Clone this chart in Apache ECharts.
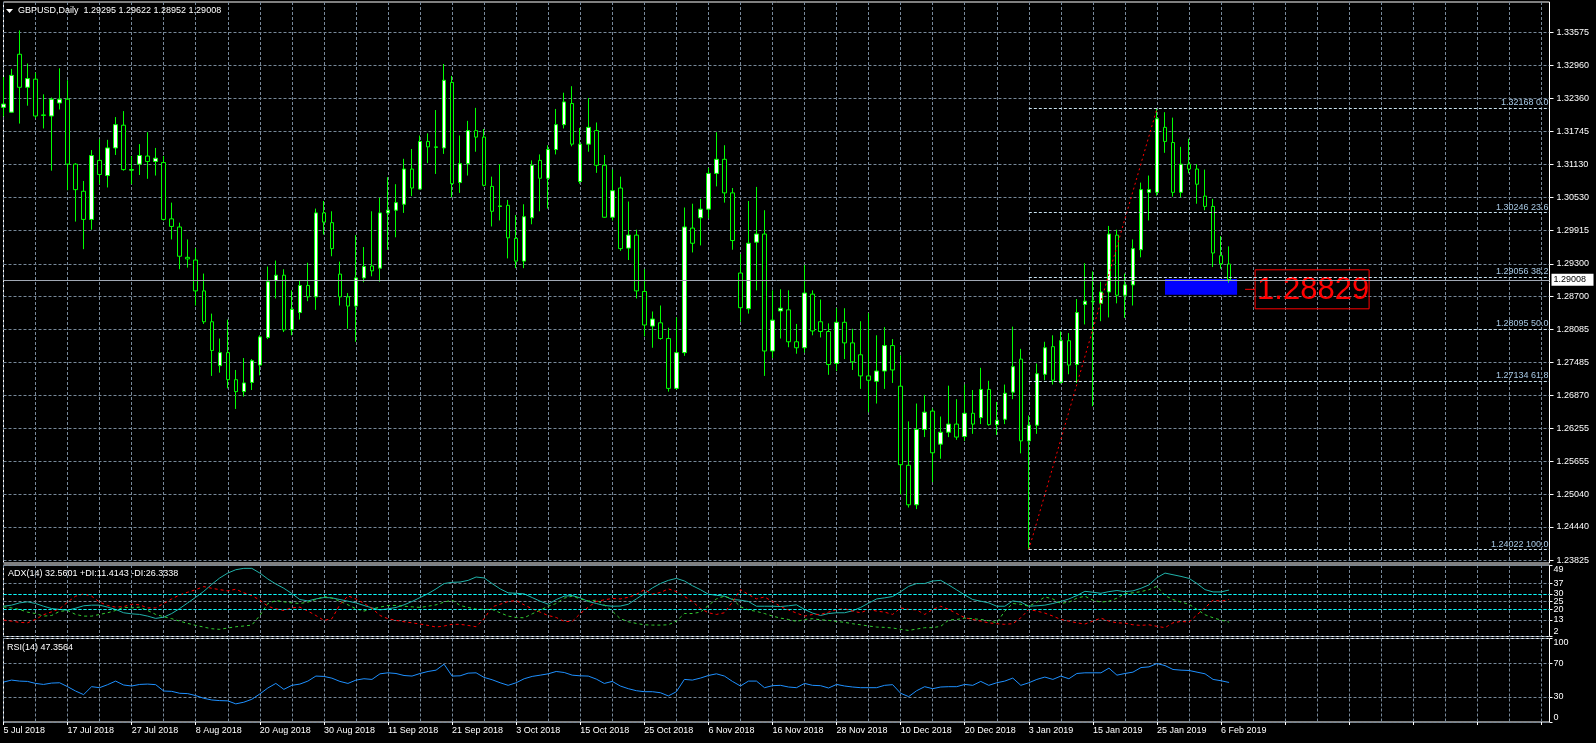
<!DOCTYPE html>
<html><head><meta charset="utf-8">
<script src="https://cdn.jsdelivr.net/npm/echarts@6/dist/echarts.min.js"></script>
<style>html,body{margin:0;padding:0;background:#000;overflow:hidden}#c{width:1596px;height:743px}</style>
</head><body><div id="c"></div>
<script>
// ---------- trading days (categories) ----------
const jul2018 = [5,6,9,10,11,12,13,16,17,18,19,20,23,24,25,26,27,30,31];
const aug2018 = [1,2,3,6,7,8,9,10,13,14,15,16,17,20,21,22,23,24,27,28,29,30,31];
const sep2018 = [3,4,5,6,7,10,11,12,13,14,17,18,19,20,21,24,25,26,27,28];
const oct2018 = [1,2,3,4,5,8,9,10,11,12,15,16,17,18,19,22,23,24,25,26,29,30,31];
const nov2018 = [1,2,5,6,7,8,9,12,13,14,15,16,19,20,21,22,23,26,27,28,29,30];
const dec2018 = [3,4,5,6,7,10,11,12,13,14,17,18,19,20,21,24,26,27,28,31];
const jan2019 = [2,3,4,7,8,9,10,11,14,15,16,17,18,21,22,23,24,25,28,29,30,31];
const feb2019 = [1,4,5,6,7];

// ---------- GBPUSD daily OHLC ----------
const opens = [1.3219,1.3210,1.3317,1.3256,1.3271,1.3205,1.3203,1.3227,1.3234,1.3114,1.3064,1.3012,1.3121,1.3093,1.3144,1.3186,1.3103,1.3114,1.3129,1.3119,
1.3117,1.3013,1.2998,1.2942,1.2937,1.2880,1.2823,1.2742,1.2766,1.2716,1.2694,1.2711,1.2743,1.2794,1.2899,1.2909,1.2808,1.2840,1.2890,1.2869,
1.3024,1.3006,1.2911,1.2869,1.2852,1.2904,1.2926,1.2922,1.3024,1.3029,1.3040,1.3105,1.3068,1.3156,1.3146,1.3144,1.3265,1.3080,1.3115,1.3176,
1.3164,1.3073,1.3036,1.3038,1.2977,1.2935,1.3015,1.3121,1.3088,1.3141,1.3187,1.3226,1.3082,1.3151,1.3176,1.3112,1.3016,1.3070,1.2959,1.2983,
1.2879,1.2815,1.2821,1.2792,1.2700,1.2766,1.2996,1.3015,1.3031,1.3097,1.3123,1.3061,1.2913,1.2847,1.2970,1.2985,1.2769,1.2843,1.2845,1.2786,
1.2775,1.2874,1.2823,1.2805,1.2746,1.2822,1.2784,1.2762,1.2723,1.2713,1.2732,1.2779,1.2704,1.2558,1.2485,1.2624,1.2658,1.2597,1.2619,1.2634,
1.2611,1.2654,1.2646,1.2698,1.2633,1.2643,1.2693,1.2754,1.2603,1.2632,1.2726,1.2777,1.2711,1.2788,1.2744,1.2855,1.2860,1.2857,1.2878,1.2983,
1.2872,1.2891,1.2956,1.3062,1.3062,1.3182,1.3154,1.3062,1.3114,1.3105,1.3055,1.3036,1.2945,1.29295];
const highs = [1.3275,1.3290,1.3361,1.3300,1.3283,1.3243,1.3237,1.3291,1.3269,1.3116,1.3083,1.3140,1.3160,1.3159,1.3201,1.3212,1.3129,1.3151,1.3173,1.3144,
1.3129,1.3043,1.3006,1.2975,1.2959,1.2912,1.2838,1.2792,1.2827,1.2734,1.2756,1.2754,1.2798,1.2925,1.2936,1.2920,1.2881,1.2900,1.2932,1.3032,
1.3046,1.3027,1.2934,1.2876,1.2983,1.2961,1.3027,1.3052,1.3090,1.3077,1.3124,1.3142,1.3167,1.3171,1.3214,1.3299,1.3277,1.3167,1.3194,1.3218,
1.3179,1.3091,1.3114,1.3048,1.3020,1.3040,1.3121,1.3132,1.3149,1.3216,1.3246,1.3258,1.3181,1.3236,1.3191,1.3131,1.3104,1.3091,1.3045,1.2993,
1.2920,1.2842,1.2853,1.2812,1.2831,1.3034,1.3041,1.3050,1.3107,1.3173,1.3149,1.3070,1.2948,1.3046,1.3072,1.3029,1.2881,1.2883,1.2881,1.2819,
1.2928,1.2881,1.2864,1.2820,1.2848,1.2848,1.2810,1.2824,1.2839,1.2798,1.2813,1.2791,1.2761,1.2639,1.2672,1.2688,1.2663,1.2648,1.2705,1.2680,
1.2707,1.2697,1.2738,1.2714,1.2675,1.2707,1.2814,1.2773,1.2650,1.2746,1.2786,1.2798,1.2805,1.2802,1.2865,1.2931,1.2916,1.2897,1.3000,1.2993,
1.2912,1.2975,1.3080,1.3093,1.32168,1.3210,1.3200,1.3146,1.3161,1.3114,1.3104,1.3050,1.2981,1.29622];
const lows = [1.3202,1.3209,1.3189,1.3222,1.3199,1.3180,1.3102,1.3215,1.3066,1.3008,1.2957,1.2993,1.3077,1.3071,1.3131,1.3102,1.3077,1.3094,1.3087,1.3093,
1.3010,1.2975,1.2920,1.2923,1.2853,1.2819,1.2723,1.2729,1.2700,1.2662,1.2685,1.2697,1.2724,1.2791,1.2866,1.2804,1.2798,1.2827,1.2861,1.2845,
1.2984,1.2944,1.2853,1.2810,1.2786,1.2896,1.2907,1.2897,1.2956,1.2979,1.3024,1.3055,1.3067,1.3116,1.3096,1.3133,1.3053,1.3061,1.3093,1.3137,
1.3073,1.2999,1.3010,1.2940,1.2922,1.2922,1.3003,1.3027,1.3032,1.3132,1.3180,1.3147,1.3078,1.3137,1.3098,1.3015,1.3010,1.2954,1.2937,1.2866,
1.2796,1.2775,1.2790,1.2694,1.2698,1.2760,1.2951,1.2964,1.3014,1.3073,1.3043,1.2956,1.2823,1.2838,1.2881,1.2723,1.2756,1.2792,1.2776,1.2764,
1.2766,1.2798,1.2794,1.2725,1.2732,1.2754,1.2734,1.2699,1.2656,1.2672,1.2699,1.2710,1.2504,1.2480,1.2477,1.2610,1.2527,1.2570,1.2610,1.2605,
1.2603,1.2616,1.2634,1.2631,1.2614,1.2634,1.2680,1.2580,1.24022,1.2616,1.2715,1.2707,1.2709,1.2726,1.2710,1.2818,1.2667,1.2824,1.2831,1.2857,
1.2830,1.2853,1.2942,1.3010,1.3056,1.3135,1.3054,1.3053,1.3097,1.3041,1.3029,1.2924,1.2921,1.28952];
const closes = [1.3225,1.3278,1.3256,1.3272,1.3203,1.3204,1.3234,1.3234,1.3114,1.3067,1.3012,1.3130,1.3095,1.3144,1.3187,1.3104,1.3104,1.3130,1.3119,1.3125,
1.3012,1.2999,1.2944,1.2939,1.2880,1.2823,1.2770,1.2766,1.2716,1.2694,1.2710,1.2751,1.2795,1.2897,1.2909,1.2808,1.2846,1.2890,1.2869,1.3024,
1.3007,1.2958,1.2869,1.2852,1.2904,1.2925,1.2917,1.3024,1.3029,1.3043,1.3105,1.3070,1.3156,1.3146,1.3145,1.3269,1.3078,1.3115,1.3176,1.3164,
1.3075,1.3027,1.3037,1.2978,1.2935,1.3017,1.3112,1.3088,1.3141,1.3187,1.3229,1.3151,1.3151,1.3182,1.3112,1.3016,1.3065,1.2958,1.2983,1.2880,
1.2817,1.2828,1.2792,1.2700,1.2766,1.2998,1.2968,1.3031,1.3097,1.3123,1.3061,1.2973,1.2849,1.2968,1.2985,1.2769,1.2826,1.2848,1.2786,1.2775,
1.2876,1.2806,1.2805,1.2744,1.2822,1.2784,1.2749,1.2723,1.2715,1.2732,1.2779,1.2734,1.2559,1.2485,1.2624,1.2656,1.2581,1.2619,1.2634,1.2610,
1.2654,1.2634,1.2698,1.2633,1.2641,1.2691,1.2740,1.2603,1.2632,1.2727,1.2775,1.2715,1.2788,1.2743,1.2840,1.2861,1.2861,1.2878,1.2985,1.2872,
1.2891,1.2958,1.3067,1.3067,1.3198,1.3156,1.3062,1.3114,1.3105,1.3077,1.3036,1.2950,1.2930,1.29008];

// ---------- ADX(14) ----------
const adx = [21.9,22.6,24.1,24.8,23.7,21.9,20.4,19.8,19.3,20.6,22.2,22.6,22.6,21.3,19.8,17.6,16.9,16.5,15.4,13.9,
14.7,17.1,20.4,24.1,27.8,31.7,36.3,40.5,43.7,45.9,46.8,46.8,43.7,39.8,36.5,33.7,30.2,26.3,25.4,26.7,
27.6,27.4,26.3,25.2,24.1,22.4,20.8,19.5,20.2,21.1,22.8,25.0,27.6,30.2,33.3,36.8,37.6,37.8,38.9,41.1,
40.5,36.8,33.3,30.7,30.4,30.0,27.6,25.2,23.2,26.3,28.5,28.9,27.4,25.0,23.7,22.4,21.9,22.0,23.2,26.7,
30.2,33.9,36.8,38.9,40.2,38.5,35.4,32.8,29.8,29.1,28.5,26.3,25.9,25.0,21.9,21.9,21.9,21.7,22.2,22.8,
19.8,17.4,15.8,17.1,17.6,17.6,18.9,21.1,23.9,26.7,27.4,28.3,31.5,35.0,36.8,36.8,38.5,38.9,35.9,32.6,
29.3,26.3,25.2,24.1,21.9,21.9,25.4,24.6,21.9,22.2,22.6,23.7,25.0,26.7,28.9,31.7,31.1,30.4,31.5,32.2,
31.5,32.0,33.7,35.9,40.7,43.7,42.6,41.5,40.2,36.8,32.8,31.3,31.3,32.5601];
const plusDI = [21.5,20.8,19.8,18.0,17.1,15.4,15.8,18.5,19.1,16.5,15.4,15.4,16.5,17.6,19.1,21.3,20.8,21.3,19.1,16.5,
15.0,13.7,12.1,10.6,9.3,8.2,7.1,6.7,7.6,8.4,8.9,9.5,15.8,23.7,25.6,24.8,24.1,23.7,24.6,26.3,
28.3,27.2,25.2,22.8,20.2,18.7,20.2,21.3,22.4,22.4,21.9,21.5,21.1,21.9,22.8,24.6,25.9,22.4,21.1,20.0,
19.8,19.8,17.6,15.4,14.5,14.3,16.9,19.3,21.9,23.7,27.2,28.5,26.7,25.4,25.9,22.8,18.7,13.7,11.7,10.6,
9.7,9.5,9.5,9.7,12.1,17.1,17.1,18.0,22.4,26.7,28.5,26.7,21.5,19.5,18.5,17.1,15.4,14.1,13.2,11.9,
13.2,13.7,13.0,12.6,11.9,11.3,10.4,9.7,8.9,8.2,8.0,7.6,6.7,6.0,6.9,7.8,7.8,8.7,12.8,13.2,
14.1,13.7,13.2,12.4,11.0,18.7,23.7,23.2,21.9,24.6,28.0,26.7,23.7,24.6,27.2,28.5,25.9,24.6,25.2,27.2,
30.2,30.7,31.5,32.8,35.0,28.9,26.3,24.6,23.2,19.8,16.3,14.3,12.8,11.4143];
const minusDI = [12.8,12.1,11.3,11.0,13.2,16.3,18.2,20.2,24.6,28.5,30.0,28.5,24.6,22.4,21.3,21.7,23.2,22.8,20.8,20.8,
23.7,26.7,29.3,31.1,32.8,34.8,33.7,32.8,32.0,33.1,30.7,28.9,25.9,21.9,20.2,19.1,20.8,21.3,18.7,15.8,
12.6,13.7,23.0,28.7,26.7,23.7,20.6,15.8,13.7,12.6,11.7,11.0,10.2,9.3,8.2,8.9,10.0,10.0,9.3,8.4,
13.7,21.5,23.2,25.0,25.6,22.8,20.2,18.0,15.8,14.5,11.9,11.9,17.1,21.3,25.0,26.1,27.0,26.7,27.8,29.6,
32.8,29.8,30.9,33.3,31.5,28.3,25.0,20.4,17.6,16.5,17.6,24.6,32.8,29.6,26.7,28.0,25.0,21.7,19.5,17.4,
15.4,16.5,16.5,18.0,19.8,20.2,18.7,17.6,19.8,18.7,18.0,16.5,20.8,19.8,19.5,16.5,19.8,21.9,19.8,17.1,
14.3,13.2,12.1,11.0,10.4,10.0,10.4,14.3,19.8,18.7,17.4,15.4,13.2,12.1,11.0,10.2,12.1,14.1,12.1,11.0,
10.8,9.7,9.3,9.7,8.7,7.8,11.0,11.9,11.5,16.3,20.8,25.9,25.2,26.3338];

// ---------- RSI(14) ----------
const rsi = [47.8,50.2,49.0,48.6,46.2,45.0,46.6,47.0,42.3,37.1,32.8,42.3,41.1,44.7,49.0,44.3,43.1,45.0,45.4,44.7,
37.1,36.7,34.4,34.0,31.6,28.4,26.4,25.6,25.3,21.7,23.7,27.2,33.6,40.7,46.2,39.1,43.9,45.4,49.0,55.0,
54.6,52.5,48.6,46.2,50.2,51.8,51.0,57.7,58.9,58.1,55.7,55.0,58.1,60.5,62.1,69.2,55.0,55.3,58.5,58.9,
53.4,50.6,47.0,43.9,47.0,51.8,54.6,56.1,57.7,60.5,59.3,56.1,55.3,55.0,51.4,46.2,48.6,43.1,39.9,37.5,
36.3,36.3,35.1,31.2,36.3,51.0,50.2,52.6,55.7,57.7,55.0,48.6,43.1,49.0,49.0,41.1,43.5,43.9,41.9,41.1,
46.2,43.9,43.5,40.7,45.0,43.1,41.9,41.1,41.1,41.1,43.9,44.7,34.4,30.4,37.5,42.3,39.9,41.9,42.3,42.3,
45.0,43.9,48.6,43.9,47.0,49.0,52.6,43.9,47.0,51.0,53.8,51.0,55.0,51.8,58.1,58.9,58.9,58.9,64.5,56.1,
58.1,59.7,65.2,66.0,70.0,67.6,62.9,62.1,61.7,59.7,57.7,51.0,49.4,47.3564];

// ---------- axis ticks / levels ----------
const priceTicks = [1.23825,1.24440,1.25040,1.25655,1.26255,1.26870,1.27485,1.28085,1.28700,1.29300,1.29915,1.30530,1.31130,1.31745,1.32360,1.32960,1.33575];
const adxTicks = [2,13,20,25,30,37,49];
const adxLevels = [20,30];
const rsiTicks = [0,30,70,100];
const fibLevels = [0.0,23.6,38.2,50.0,61.8,100.0];
const fibPrices = [1.32168,1.30246,1.29056,1.28095,1.27134,1.24022];
const fibLowIndex = 128, fibHighIndex = 144;
const boxIndexRange = [145,154];
const boxPrices = [1.2902,1.2873];
const labelPrice = 1.28829;
const labelIndex = 155;

// ---------- build ----------
const monthTable = [['Jul 2018',jul2018],['Aug 2018',aug2018],['Sep 2018',sep2018],['Oct 2018',oct2018],
  ['Nov 2018',nov2018],['Dec 2018',dec2018],['Jan 2019',jan2019],['Feb 2019',feb2019]];
const dates = [];
monthTable.forEach(([m, days]) => days.forEach(d => dates.push(d + ' ' + m)));
const TOTAL = 194;
const cats = dates.slice();
for (let k = dates.length; k < TOTAL; k++) cats.push('~' + k);
const candles = opens.map((o, i) => [o, closes[i], lows[i], highs[i]]);
const last = dates.length - 1;
const lastFibIndex = TOTAL - 1;

const FONT = 'Liberation Sans';
const FS = 9;
const gridLineStyle = {color: '#778899', type: [3, 2], width: 1};
const L = 3.5, R = 46.5;
const grids = [
  {left: L, right: R, top: 2, height: 561},
  {left: L, right: R, top: 565, height: 71.5},
  {left: L, right: R, top: 638.5, height: 83.5}
].map(g => Object.assign(g, {show: true, borderColor: '#ffffff', borderWidth: 1, backgroundColor: 'transparent', containLabel: false, outerBoundsMode: 'none'}));

const xAxes = [0, 1, 2].map(i => ({
  type: 'category', gridIndex: i, data: cats, boundaryGap: false,
  axisLine: {show: false},
  axisTick: {show: i === 2, interval: 7, length: 3, lineStyle: {color: '#ffffff'}},
  axisLabel: {show: i === 2, interval: 7, align: 'left', color: '#ffffff', fontSize: FS, fontFamily: FONT, margin: 4,
    formatter: v => (v.charAt(0) === '~' ? '' : v)},
  splitLine: {show: true, interval: 3, lineStyle: gridLineStyle}
}));

const yLabel = (extra) => Object.assign({color: '#ffffff', fontSize: FS, fontFamily: FONT}, extra);
const yAxes = [
  {type: 'value', gridIndex: 0, position: 'right', min: 1.23775, max: 1.34135, scale: true,
    axisLine: {show: false},
    axisTick: {show: true, length: 4, customValues: priceTicks, lineStyle: {color: '#ffffff'}},
    axisLabel: yLabel({customValues: priceTicks, margin: 7, formatter: v => v.toFixed(5)}),
    splitLine: {show: true, lineStyle: gridLineStyle}},
  {type: 'value', gridIndex: 1, position: 'right', min: 2, max: 49,
    axisLine: {show: false},
    axisTick: {show: true, length: 3, customValues: adxTicks, lineStyle: {color: '#ffffff'}},
    axisLabel: yLabel({customValues: adxTicks, margin: 4, verticalAlignMaxLabel: 'top', verticalAlignMinLabel: 'bottom'}),
    splitLine: {show: true, lineStyle: gridLineStyle}},
  {type: 'value', gridIndex: 2, position: 'right', min: 0, max: 100,
    axisLine: {show: false},
    axisTick: {show: true, length: 3, customValues: rsiTicks, lineStyle: {color: '#ffffff'}},
    axisLabel: yLabel({customValues: rsiTicks, margin: 4, verticalAlignMaxLabel: 'top', verticalAlignMinLabel: 'bottom'}),
    splitLine: {show: true, lineStyle: gridLineStyle}}
];

const fibLines = fibPrices.map((p, k) => [
  {coord: [fibLowIndex, p], lineStyle: {color: '#c8e2f0', type: [3, 2], width: 1},
   label: {show: true, position: 'insideEndTop', distance: 1, formatter: p.toFixed(5) + ' ' + fibLevels[k].toFixed(1),
     color: '#a6c8e4', fontSize: FS, fontFamily: FONT}},
  {coord: [lastFibIndex, p]}
]);
const trendLine = [
  {coord: [fibLowIndex, lows[fibLowIndex]], lineStyle: {color: '#ff0000', type: [2, 3], width: 1}, label: {show: false}},
  {coord: [fibHighIndex, highs[fibHighIndex]]}
];
const bidLine = {yAxis: closes[last], lineStyle: {color: '#a0a8b4', type: 'solid', width: 1}, label: {show: false}};

const option = {
  backgroundColor: '#000000',
  animation: false,
  textStyle: {fontFamily: FONT},
  grid: grids,
  xAxis: xAxes,
  yAxis: yAxes,
  series: [
    {type: 'candlestick', xAxisIndex: 0, yAxisIndex: 0, data: candles, barWidth: 4, clip: false,
     itemStyle: {color: '#ffffff', color0: '#000000', borderColor: '#00ff00', borderColor0: '#00ff00', borderWidth: 1},
     markLine: {silent: true, symbol: ['none', 'none'], animation: false, data: [bidLine, trendLine].concat(fibLines)},
     markArea: {silent: true, data: [[{coord: [boxIndexRange[0], boxPrices[0]], itemStyle: {color: '#0000ff', opacity: 1}}, {coord: [boxIndexRange[1], boxPrices[1]]}]]}
    },
    {type: 'line', name: 'ADX', xAxisIndex: 1, yAxisIndex: 1, data: adx, symbol: 'none', clip: false,
     lineStyle: {color: '#20b2aa', width: 1},
     markLine: {silent: true, symbol: ['none', 'none'], animation: false, label: {show: false},
       lineStyle: {color: '#00ffff', type: [3, 2], width: 1}, data: adxLevels.map(v => ({yAxis: v}))}},
    {type: 'line', name: '+DI', xAxisIndex: 1, yAxisIndex: 1, data: plusDI, symbol: 'none', clip: false,
     lineStyle: {color: '#32cd32', width: 1, type: [3, 3]}},
    {type: 'line', name: '-DI', xAxisIndex: 1, yAxisIndex: 1, data: minusDI, symbol: 'none', clip: false,
     lineStyle: {color: '#ff0000', width: 1, type: [3, 3]}},
    {type: 'line', name: 'RSI', xAxisIndex: 2, yAxisIndex: 2, data: rsi, symbol: 'none', clip: false,
     lineStyle: {color: '#1e90ff', width: 1}}
  ]
};

const chart = echarts.init(document.getElementById('c'), null, {renderer: 'canvas'});
chart.setOption(option);

// ---------- texts and price labels placed through the chart's scales ----------
const header = 'GBPUSD,Daily  ' + [opens[last], highs[last], lows[last], closes[last]].map(v => v.toFixed(5)).join(' ');
const adxText = 'ADX(14) ' + adx[last].toFixed(4) + ' +DI:' + plusDI[last].toFixed(4) + ' -DI:' + minusDI[last].toFixed(4);
const rsiText = 'RSI(14) ' + rsi[last].toFixed(4);
const bidPt = chart.convertToPixel({xAxisIndex: 0, yAxisIndex: 0}, [lastFibIndex, closes[last]]);
const lblPt = chart.convertToPixel({xAxisIndex: 0, yAxisIndex: 0}, [labelIndex, labelPrice]);
const adxTop = chart.convertToPixel({xAxisIndex: 1, yAxisIndex: 1}, [0, 49]);
const rsiTop = chart.convertToPixel({xAxisIndex: 2, yAxisIndex: 2}, [0, 100]);

chart.setOption({
  graphic: [
    {type: 'polygon', shape: {points: [[6, 9], [13, 9], [9.5, 13]]}, style: {fill: '#ffffff'}},
    {type: 'text', x: 18, y: 11, style: {text: header, fill: '#ffffff', font: FS + 'px "' + FONT + '"', verticalAlign: 'middle'}},
    {type: 'text', x: 8, y: adxTop[1] + 9, style: {text: adxText, fill: '#ffffff', font: FS + 'px "' + FONT + '"', verticalAlign: 'middle'}},
    {type: 'text', x: 7, y: rsiTop[1] + 9, style: {text: rsiText, fill: '#ffffff', font: FS + 'px "' + FONT + '"', verticalAlign: 'middle'}},
    {type: 'rect', shape: {x: bidPt[0] + 2, y: bidPt[1] - 6, width: 42, height: 12}, style: {fill: '#ffffff'}},
    {type: 'text', x: bidPt[0] + 4, y: bidPt[1], style: {text: closes[last].toFixed(5), fill: '#000000', font: FS + 'px "' + FONT + '"', verticalAlign: 'middle'}},
    {type: 'line', shape: {x1: lblPt[0], y1: lblPt[1], x2: lblPt[0] + 10, y2: lblPt[1]}, style: {stroke: '#ff0000', lineWidth: 1}},
    {type: 'rect', shape: {x: lblPt[0] + 10, y: lblPt[1] - 19.5, width: 114, height: 39}, style: {fill: 'none', stroke: '#ff0000', lineWidth: 1}},
    {type: 'text', x: lblPt[0] + 12, y: lblPt[1] + 1, style: {text: labelPrice.toFixed(5), fill: '#ff0000', font: '31px "' + FONT + '"', verticalAlign: 'middle'}}
  ]
});
</script>
</body></html>
